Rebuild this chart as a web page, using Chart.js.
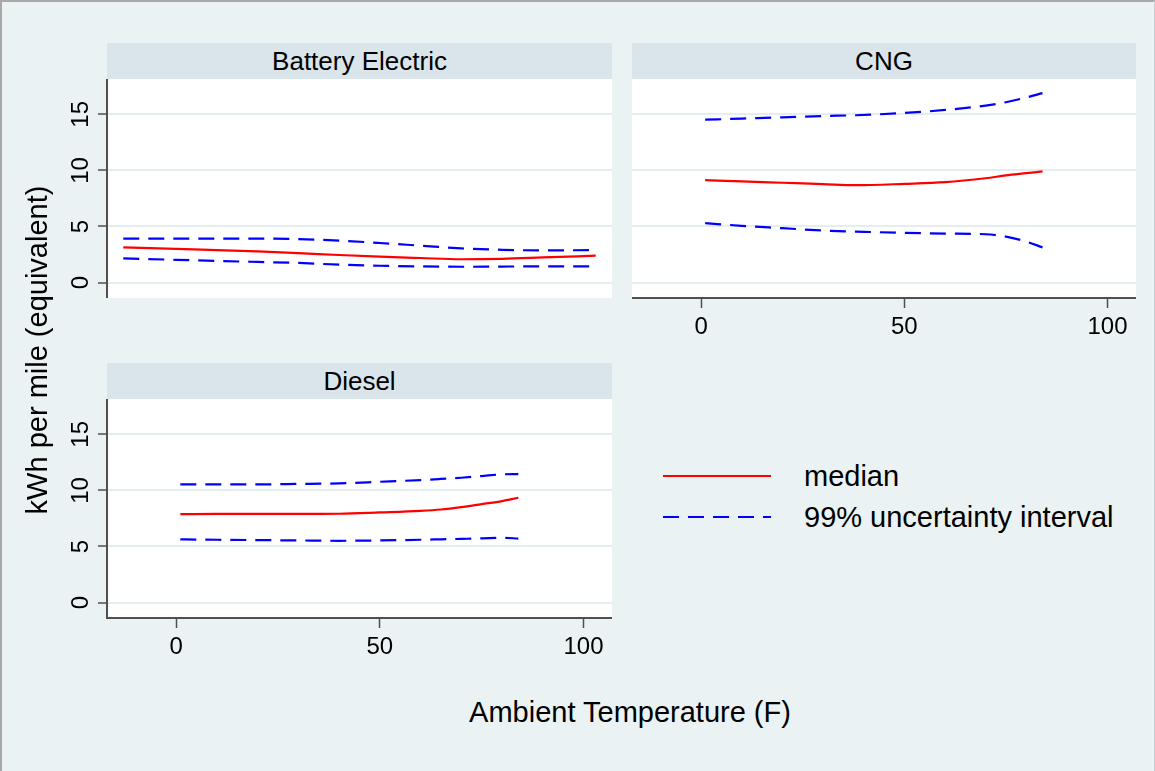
<!DOCTYPE html>
<html>
<head>
<meta charset="utf-8">
<script src="https://cdn.jsdelivr.net/npm/chart.js@4.4.1/dist/chart.umd.min.js"></script>
<style>
  html, body { margin: 0; padding: 0; }
  body {
    width: 1155px; height: 771px; position: relative; overflow: hidden;
    background: #EAF2F3;
    font-family: "Liberation Sans", Arial, sans-serif;
    color: #000;
  }
  .frame {
    position: absolute; left: 0; top: 0; width: 1155px; height: 771px;
    box-sizing: border-box;
    border-top: 2px solid #A8A8A8; border-left: 2px solid #A8A8A8; border-right: 1px solid #C8D0D3;
    pointer-events: none;
  }
  .strip {
    position: absolute; height: 36px; background: #D9E5EA;
    font-size: 26px; line-height: 36px; text-align: center;
  }
  .panel { position: absolute; }
  .ytitle {
    position: absolute; left: 37px; top: 350px; white-space: nowrap;
    font-size: 29px; transform: translate(-50%, -50%) rotate(-90deg);
  }
  .xtitle {
    position: absolute; left: 630px; top: 712px; white-space: nowrap;
    font-size: 29px; transform: translate(-50%, -50%);
  }
  .legend-item { position: absolute; left: 663px; height: 34px; white-space: nowrap; }
  .legend-item svg { position: absolute; left: 0; top: 0; }
  .legend-item span { position: absolute; left: 141px; top: 0; font-size: 29px; line-height: 34px; }
</style>
</head>
<body>

<div class="strip" style="left:107px; top:43px; width:505px;">Battery Electric</div>
<div class="strip" style="left:632px; top:43px; width:504px;">CNG</div>
<div class="strip" style="left:107px; top:363px; width:505px;">Diesel</div>

<div class="panel" style="left:40px; top:79px; width:572px; height:219px;"><canvas id="battery" width="572" height="219"></canvas></div>
<div class="panel" style="left:632px; top:79px; width:504px; height:270px;"><canvas id="cng" width="504" height="270"></canvas></div>
<div class="panel" style="left:40px; top:399px; width:572px; height:270px;"><canvas id="diesel" width="572" height="270"></canvas></div>

<div class="ytitle">kWh per mile (equivalent)</div>
<div class="xtitle">Ambient Temperature (F)</div>

<div class="legend-item" style="top:459px;">
  <svg width="110" height="34"><line x1="0" y1="17" x2="108" y2="17" stroke="#FF0000" stroke-width="2.2"/></svg>
  <span>median</span>
</div>
<div class="legend-item" style="top:500px;">
  <svg width="110" height="34"><line x1="0" y1="17" x2="108" y2="17" stroke="#0000FF" stroke-width="2.2" stroke-dasharray="16 9"/></svg>
  <span>99% uncertainty interval</span>
</div>

<div class="frame"></div>

<script>
// ---------- data ----------
const xTickValues = [0, 50, 100];
const yTickValues = [0, 5, 10, 15];

const batteryTemp   = [-13, 0, 10, 20, 30, 40, 50, 60, 70, 80, 90, 103];
const batteryMedian = [3.14, 3.0, 2.9, 2.78, 2.63, 2.46, 2.31, 2.19, 2.08, 2.12, 2.24, 2.4];
const batteryUpper  = [3.92, 3.92, 3.92, 3.92, 3.88, 3.74, 3.53, 3.29, 3.05, 2.92, 2.87, 2.9];
const batteryLower  = [2.16, 2.03, 1.93, 1.84, 1.75, 1.6, 1.5, 1.44, 1.41, 1.43, 1.44, 1.44];

const cngTemp   = [1, 10, 20, 30, 38, 50, 60, 70, 75, 80, 84];
const cngMedian = [9.13, 9.02, 8.9, 8.78, 8.68, 8.8, 8.95, 9.3, 9.55, 9.75, 9.91];
const cngUpper  = [14.52, 14.62, 14.73, 14.85, 14.92, 15.12, 15.39, 15.78, 16.08, 16.5, 16.89];
const cngLower  = [5.3, 5.06, 4.85, 4.64, 4.55, 4.43, 4.37, 4.31, 4.1, 3.65, 3.14];

const dieselTemp   = [1, 10, 20, 30, 40, 50, 60, 65, 70, 75, 80, 84];
const dieselMedian = [7.89, 7.9, 7.9, 7.9, 7.92, 8.04, 8.18, 8.3, 8.51, 8.78, 9.05, 9.35];
const dieselUpper  = [10.54, 10.54, 10.54, 10.58, 10.63, 10.77, 10.92, 11.02, 11.13, 11.28, 11.43, 11.46];
const dieselLower  = [5.63, 5.6, 5.57, 5.54, 5.51, 5.54, 5.6, 5.64, 5.68, 5.72, 5.77, 5.71];

// ---------- styling ----------
const FONT = '"Liberation Sans", Arial, sans-serif';
const AXIS_COLOR = '#4F4F4F';
const GRID_COLOR = '#E4EDF0';
Chart.defaults.font.family = FONT;
Chart.defaults.color = '#000';

// white plot region
const plotBackground = {
  id: 'plotBackground',
  beforeDraw(chart) {
    const { ctx, chartArea: a } = chart;
    ctx.save();
    ctx.fillStyle = '#FFFFFF';
    ctx.fillRect(a.left, a.top, a.right - a.left, a.bottom - a.top);
    ctx.restore();
  }
};

// y tick labels turned 90 degrees, as Stata draws them
const rotatedYLabels = {
  id: 'rotatedYLabels',
  afterDraw(chart) {
    const s = chart.scales.y;
    const ctx = chart.ctx;
    ctx.save();
    ctx.font = '24px ' + FONT;
    ctx.fillStyle = '#000';
    ctx.textAlign = 'center';
    ctx.textBaseline = 'alphabetic';
    s.ticks.forEach(t => {
      ctx.save();
      ctx.translate(s.right - 19.5, s.getPixelForValue(t.value));
      ctx.rotate(-Math.PI / 2);
      ctx.fillText(String(t.value), 0, 0);
      ctx.restore();
    });
    ctx.restore();
  }
};

function toPoints(xs, ys) {
  return xs.map((x, i) => ({ x: x, y: ys[i] }));
}

function makeDatasets(temp, median, upper, lower) {
  const base = { pointRadius: 0, borderWidth: 2.2, cubicInterpolationMode: 'monotone', fill: false };
  return [
    Object.assign({ label: 'upper', data: toPoints(temp, upper), borderColor: '#0000FF', borderDash: [16, 9] }, base),
    Object.assign({ label: 'lower', data: toPoints(temp, lower), borderColor: '#0000FF', borderDash: [16, 9] }, base),
    Object.assign({ label: 'median', data: toPoints(temp, median), borderColor: '#FF0000' }, base),
  ];
}

function makeChart(id, datasets, showX, showY) {
  const ctx = document.getElementById(id).getContext('2d');
  return new Chart(ctx, {
    type: 'line',
    data: { datasets: datasets },
    plugins: showY ? [plotBackground, rotatedYLabels] : [plotBackground],
    options: {
      responsive: false,
      animation: false,
      events: [],
      layout: { padding: 0 },
      plugins: { legend: { display: false }, tooltip: { enabled: false } },
      scales: {
        x: {
          type: 'linear',
          display: showX,
          min: -17,
          max: 107,
          afterBuildTicks: scale => { scale.ticks = xTickValues.map(v => ({ value: v })); },
          afterFit: scale => { scale.height = showX ? 51 : 0; },
          border: { display: true, color: AXIS_COLOR, width: 2 },
          grid: { drawOnChartArea: false, drawTicks: true, tickLength: 10, tickColor: AXIS_COLOR, tickWidth: 1.5 },
          ticks: { font: { size: 24 }, color: '#000', padding: 5, maxRotation: 0, minRotation: 0,
                   callback: v => String(v) }
        },
        y: {
          type: 'linear',
          min: -1.375,
          max: 18.15,
          afterBuildTicks: scale => { scale.ticks = yTickValues.map(v => ({ value: v })); },
          afterFit: scale => { scale.width = showY ? 67 : 0; },
          border: { display: showY, color: AXIS_COLOR, width: 2 },
          grid: { color: GRID_COLOR, lineWidth: 2, drawTicks: showY, tickLength: 9, tickColor: AXIS_COLOR, tickWidth: 1.5 },
          ticks: { display: false }
        }
      }
    }
  });
}

makeChart('battery', makeDatasets(batteryTemp, batteryMedian, batteryUpper, batteryLower), false, true);
makeChart('cng', makeDatasets(cngTemp, cngMedian, cngUpper, cngLower), true, false);
makeChart('diesel', makeDatasets(dieselTemp, dieselMedian, dieselUpper, dieselLower), true, true);
</script>
</body>
</html>
